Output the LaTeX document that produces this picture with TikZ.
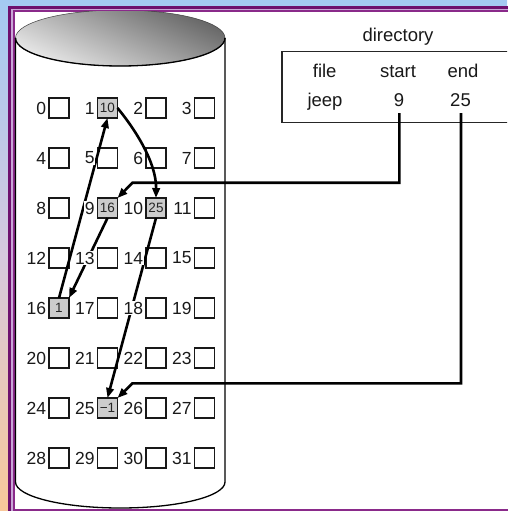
\documentclass[tikz,border=0pt]{standalone}
\usepackage{fontspec}
\setmainfont{Liberation Sans}
\usetikzlibrary{arrows.meta}
\definecolor{bgblue}{HTML}{A4CAF2}
\definecolor{bgmid}{HTML}{D6C8DE}
\definecolor{bgpeach}{HTML}{F8C89A}
\definecolor{frameA}{HTML}{6E106E}
\definecolor{frameB}{HTML}{C8A6D6}
\definecolor{frameC}{HTML}{8A2A8A}
\definecolor{blkgray}{HTML}{CCCCCC}
\definecolor{topdark}{HTML}{666666}
\definecolor{toplight}{HTML}{E8E8E8}
\begin{document}
\begin{tikzpicture}[x=1pt,y=-1pt,
  blk/.style={draw=black!90, line width=1.2pt, minimum size=20pt, inner sep=0pt, outer sep=0pt},
  used/.style={blk, fill=blkgray, font=\fontsize{13.5}{13.5}\selectfont, text=black!85},
  lbl/.style={fill=white, inner sep=0.8pt, anchor=east, font=\fontsize{17.5}{17.5}\selectfont, text=black!90},
  dtxt/.style={anchor=base, inner sep=0pt, font=\fontsize{18.5}{18.5}\selectfont, text=black!90},
  chain/.style={line width=2.6pt, black, -{Triangle[length=10pt,width=7.5pt]}},
  cyl/.style={line width=1.3pt, black}]

\useasboundingbox (0,0) rectangle (507,511);
\shade[top color=bgblue, bottom color=bgpeach, middle color=bgmid] (0,0) rectangle (507,511);
\fill[frameA] (8,6.5) rectangle (530,530);
\fill[frameB] (11,9) rectangle (530,511);
\fill[frameC] (13,10.5) rectangle (530,510.6);
\fill[white] (14.5,12) rectangle (530,509.4);

\begin{scope}
\clip (14.5,12) rectangle (507,509.4);

% cylinder
\shade[top color=topdark, bottom color=toplight, shading angle=-25] (120.25,38) ellipse [x radius=104.75pt, y radius=28pt];
\draw[gray!50!black, line width=0.5pt] (120.25,38) ellipse [x radius=104.75pt, y radius=28pt];
\draw[cyl] (15.5,38) .. controls (15.5,53.46) and (62.4,66) .. (120.25,66) .. controls (178.1,66) and (225,53.46) .. (225,38);
\draw[cyl] (15.5,38) -- (15.5,482) .. controls (15.5,496.36) and (62.4,508) .. (120.25,508) .. controls (178.1,508) and (225,496.36) .. (225,482) -- (225,38);

% blocks
\foreach \n in {0,2,3,4,5,6,7,8,11,12,13,14,15,17,18,19,20,21,22,23,24,26,27,28,29,30,31} {
  \pgfmathtruncatemacro\cc{mod(\n,4)}
  \pgfmathtruncatemacro\rr{div(\n,4)}
  \node[blk] (b\n) at ({59+48.5*\cc},{108+50*\rr}) {};
}
\foreach \n/\t in {1/10,9/16,10/25,16/1,25/{−1}} {
  \pgfmathtruncatemacro\cc{mod(\n,4)}
  \pgfmathtruncatemacro\rr{div(\n,4)}
  \node[used] (b\n) at ({59+48.5*\cc},{108+50*\rr}) {\t};
}

% directory
\draw[line width=1.2pt, black!85] (530,51.7) -| (282,122.3) -- (530,122.3);
\node[dtxt] (tdir) at (398,41.5) {directory};
\node[dtxt] (tfile) at (324.7,77.3) {file};
\node[dtxt] (tstart) at (398,77.3) {start};
\node[dtxt] (tend) at (463,77.3) {end};
\node[dtxt] (tjeep) at (325,106) {jeep};
\node[dtxt] (t9) at (399,106) {9};
\node[dtxt] (t25) at (460.5,106) {25};

% chain
\draw[chain] (b9.south) -- (b16.north east);
\draw[chain] (b16.north) -- (b1.south);
\draw[chain] (b1.east) .. controls +(15,18) and +(0.5,-37) .. (b10.north);
\draw[chain] (b10.south) -- (b25.north);
\coordinate (s9) at (399.3,113);
\coordinate (k9) at (132.5,182.7);
\draw[chain] (s9) |- (k9) -- (b9.north east);
\coordinate (s25) at (461,113);
\coordinate (k25) at (132.5,383.3);
\draw[chain] (s25) |- (k25) -- (b25.north east);

% labels
\foreach \n in {0,...,31} {
  \node[lbl, xshift=-2pt] (l\n) at (b\n.west) {\n};
}
\end{scope}
\end{tikzpicture}
\end{document}
